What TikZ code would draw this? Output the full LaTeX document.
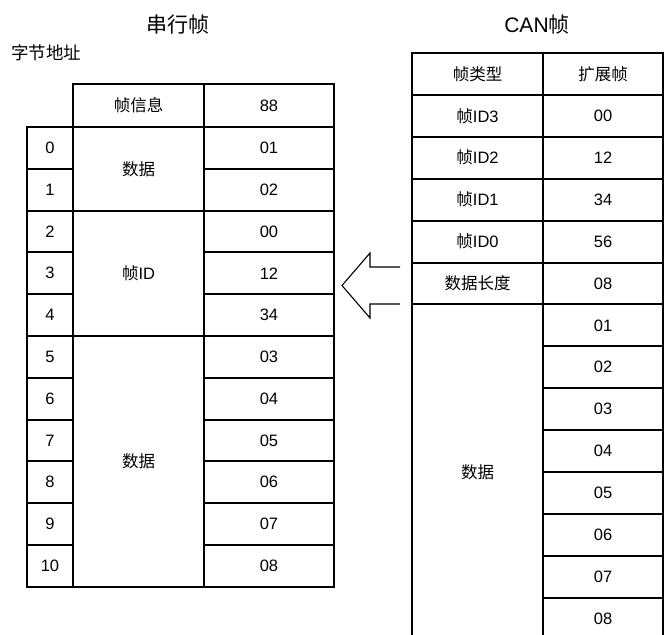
\documentclass[tikz,border=0pt]{standalone}
\usepackage{fontspec}
\setmainfont{Liberation Sans}
\newfontfamily\cjk{Noto Sans CJK SC}
\tikzset{
  cell/.style={draw, line width=2pt, inner sep=0pt, outer sep=0pt, font=\fontsize{16.5}{18}\selectfont, anchor=north west},
  ttl/.style={font=\fontsize{21}{24}\selectfont, inner sep=0pt},
  blockarrow/.style={draw, line width=1.1pt, line join=miter}
}
\begin{document}
\begin{tikzpicture}[x=1pt,y=-1pt]
\useasboundingbox (0,0) rectangle (665,635);
% titles
\node[ttl] (t1) at (178,25) {\cjk 串行帧};
\node[ttl] (t2) at (537,25) {CAN{\cjk 帧}};
\node[font=\fontsize{17.5}{20}\selectfont, inner sep=0pt, anchor=west] (t3) at (11,53) {\cjk 字节地址};
% left table
\def\H{41.8}
\node[cell, minimum width=131pt, minimum height=43pt] (lh1) at (73,84) {\cjk 帧信息};
\node[cell, minimum width=130pt, minimum height=43pt] (lh2) at (204,84) {88};
\foreach \i/\v in {0/01,1/02,2/00,3/12,4/34,5/03,6/04,7/05,8/06,9/07,10/08}{
  \node[cell, minimum width=46pt, minimum height=\H pt] (a\i) at (27,127+\H*\i) {\i};
  \node[cell, minimum width=130pt, minimum height=\H pt] (v\i) at (204,127+\H*\i) {\v};
}
\node[cell, minimum width=131pt, minimum height=2*\H pt] (n1) at (73,127) {\cjk 数据};
\node[cell, minimum width=131pt, minimum height=3*\H pt] (n2) at (73,127+2*\H) {{\cjk 帧}ID};
\node[cell, minimum width=131pt, minimum height=6*\H pt] (n3) at (73,127+5*\H) {\cjk 数据};
% right table
\def\R{41.9}
\foreach \i/\k/\v in {0/{\cjk 帧类型}/{\cjk 扩展帧},1/{{\cjk 帧}ID3}/00,2/{{\cjk 帧}ID2}/12,3/{{\cjk 帧}ID1}/34,4/{{\cjk 帧}ID0}/56,5/{\cjk 数据长度}/08}{
  \node[cell, minimum width=131pt, minimum height=\R pt] (rk\i) at (412,53+\R*\i) {\k};
  \node[cell, minimum width=120pt, minimum height=\R pt] (rv\i) at (543,53+\R*\i) {\v};
}
\foreach \i/\v in {0/01,1/02,2/03,3/04,4/05,5/06,6/07,7/08}{
  \node[cell, minimum width=120pt, minimum height=\R pt] (rd\i) at (543,53+6*\R+\R*\i) {\v};
}
\node[cell, minimum width=131pt, minimum height=8*\R pt] (rdata) at (412,53+6*\R) {\cjk 数据};
% hollow arrow
\coordinate (s1) at (400,267);
\coordinate (s2) at (400,304);
\coordinate (tip) at (342,285.5);
\draw[blockarrow] (s1) -- (370,267) -- (370,253) -- (tip) -- (370,318) -- (370,304) -- (s2);
\end{tikzpicture}
\end{document}
